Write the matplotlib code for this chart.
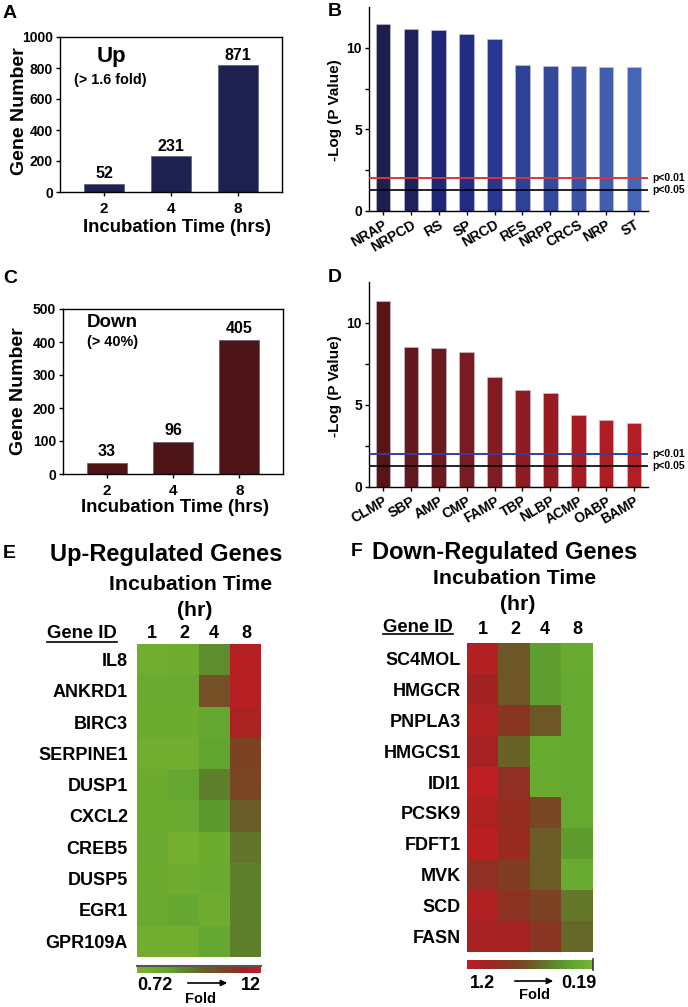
import numpy as np
import matplotlib
matplotlib.use('Agg')
import matplotlib.pyplot as plt
from matplotlib.colors import LinearSegmentedColormap, LogNorm
from matplotlib.lines import Line2D
from matplotlib.patches import FancyArrowPatch

plt.rcParams['font.family'] = ['Liberation Sans', 'DejaVu Sans']
plt.rcParams['font.weight'] = 'bold'
plt.rcParams['axes.labelweight'] = 'bold'

# ---------------- data ----------------
times = ['2', '4', '8']
up_counts = [52, 231, 817]
up_labels = ['52', '231', '871']
down_counts = [33, 96, 405]
down_labels = ['33', '96', '405']

b_terms = ['NRAP', 'NRPCD', 'RS', 'SP', 'NRCD', 'RES', 'NRPP', 'CRCS', 'NRP', 'ST']
b_values = [11.45, 11.18, 11.12, 10.86, 10.53, 8.94, 8.86, 8.86, 8.82, 8.80]
b_colors = ['#1E1F4C', '#1F215C', '#1F2676', '#222D82', '#27368E', '#2D4196',
            '#33499C', '#3A53A6', '#405DAE', '#4565B6']

d_terms = ['CLMP', 'SBP', 'AMP', 'CMP', 'FAMP', 'TBP', 'NLBP', 'ACMP', 'OABP', 'BAMP']
d_values = [11.37, 8.53, 8.47, 8.25, 6.70, 5.94, 5.72, 4.37, 4.08, 3.88]
d_colors = ['#581519', '#62181D', '#6B1A1F', '#781B22', '#831B22', '#8E1C22',
            '#961C22', '#A61C22', '#B01C24', '#B51D25']

p01 = 2.0
p05 = 1.3

hours = ['1', '2', '4', '8']
up_genes = ['IL8', 'ANKRD1', 'BIRC3', 'SERPINE1', 'DUSP1', 'CXCL2', 'CREB5',
            'DUSP5', 'EGR1', 'GPR109A']
up_fold = [
    [0.90, 0.95, 1.93, 10.4],
    [1.10, 1.10, 4.12, 10.4],
    [1.01, 1.01, 1.26, 9.05],
    [0.90, 0.90, 1.45, 5.16],
    [1.01, 1.26, 2.22, 4.88],
    [1.01, 1.10, 1.67, 3.38],
    [1.10, 0.83, 1.01, 2.55],
    [1.04, 0.95, 1.10, 2.22],
    [1.10, 1.26, 0.95, 2.22],
    [0.90, 0.90, 1.26, 2.22],
]
down_genes = ['SC4MOL', 'HMGCR', 'PNPLA3', 'HMGCS1', 'IDI1', 'PCSK9', 'FDFT1',
              'MVK', 'SCD', 'FASN']
down_fold = [
    [1.10, 0.48, 0.27, 0.23],
    [0.91, 0.48, 0.27, 0.24],
    [1.04, 0.69, 0.48, 0.24],
    [0.96, 0.44, 0.23, 0.24],
    [1.20, 0.76, 0.23, 0.24],
    [1.04, 0.80, 0.55, 0.24],
    [1.16, 0.83, 0.46, 0.28],
    [0.76, 0.63, 0.46, 0.23],
    [1.04, 0.73, 0.58, 0.38],
    [0.96, 0.96, 0.69, 0.42],
]
up_range = (0.72, 12)
down_range = (0.19, 1.2)

# ---------------- layout helpers ----------------
W, H = 688, 1007
fig = plt.figure(figsize=(W / 100, H / 100), dpi=100)


def add_ax(l, t, r, b, **kw):
    return fig.add_axes([l / W, 1 - b / H, (r - l) / W, (b - t) / H], **kw)


def ftext(x, y, s, **kw):
    kw.setdefault('fontweight', 'bold')
    return fig.text(x / W, 1 - y / H, s, **kw)


def fline(x0, x1, y0, y1, **kw):
    fig.add_artist(Line2D([x0 / W, x1 / W], [1 - y0 / H, 1 - y1 / H],
                          transform=fig.transFigure, **kw))


def farrow(x0, x1, y):
    fig.add_artist(FancyArrowPatch((x0 / W, 1 - y / H), (x1 / W, 1 - y / H),
                                   transform=fig.transFigure, arrowstyle='-|>',
                                   mutation_scale=9, color='black', lw=1.2))


# ---------------- count panels (A, C) ----------------
def count_panel(box, counts, labels, color, ymax, step, lab_off):
    ax = add_ax(*box)
    x = np.arange(len(times))
    ax.bar(x, counts, width=0.6, color=color, edgecolor='#5a5a7a', lw=0.5)
    ax.set_xlim(-0.66, 2.66)
    ax.set_ylim(0, ymax)
    ax.set_yticks(range(0, ymax + 1, step))
    ax.set_xticks(x)
    ax.set_xticklabels(times)
    ax.tick_params(axis='y', direction='out', length=3, width=1, labelsize=10, pad=2)
    ax.tick_params(axis='x', direction='out', length=3, width=1, labelsize=11, pad=4)
    for lab in ax.get_xticklabels() + ax.get_yticklabels():
        lab.set_fontweight('bold')
    for s in ax.spines.values():
        s.set_linewidth(1)
    for xi, c, lab in zip(x, counts, labels):
        ax.annotate(lab, (xi, c), xytext=(0, lab_off), textcoords='offset points',
                    ha='center', va='center', fontsize=11.5, fontweight='bold')
    return ax


count_panel((60, 37, 282, 192), up_counts, up_labels, '#1F2150', 1000, 200, 7.2)
count_panel((63, 309, 283, 474), down_counts, down_labels, '#4E1518', 500, 100, 8.3)

ftext(3, 14, 'A', fontsize=14, ha='left', va='center')
ftext(3, 278, 'C', fontsize=14, ha='left', va='center')
ftext(20, 111, 'Gene Number', fontsize=14, rotation=90, ha='center', va='center')
ftext(19, 391, 'Gene Number', fontsize=14, rotation=90, ha='center', va='center')
ftext(177, 228, 'Incubation Time (hrs)', fontsize=13.4, ha='center', va='center')
ftext(175, 508, 'Incubation Time (hrs)', fontsize=13.4, ha='center', va='center')
ftext(97, 56.5, 'Up', fontsize=16, ha='left', va='center')
ftext(74, 80, '(> 1.6 fold)', fontsize=10.4, ha='left', va='center')
ftext(87, 322.5, 'Down', fontsize=13.5, ha='left', va='center')
ftext(87, 342.5, '(> 40%)', fontsize=10.4, ha='left', va='center')


# ---------------- enrichment panels (B, D) ----------------
def enrich_panel(box, terms, values, colors, line_col):
    ax = add_ax(*box)
    ax.set_facecolor('none')
    x = np.arange(len(terms))
    ax.bar(x, values, width=0.52, color=colors, edgecolor='#c8c8d8', lw=0.4, zorder=2)
    ax.set_xlim(-0.5, 9.5)
    ax.set_ylim(0, 12.5)
    ax.set_yticks([0, 2.5, 5, 7.5, 10])
    ax.set_yticklabels(['0', '', '5', '', '10'])
    ax.set_xticks(x)
    ax.set_xticklabels(terms, rotation=30, ha='right', va='top', rotation_mode='anchor')
    ax.tick_params(axis='y', direction='out', length=3, width=1, labelsize=10, pad=2)
    ax.tick_params(axis='x', direction='out', length=3, width=1, labelsize=10, pad=2)
    for lab in ax.get_xticklabels() + ax.get_yticklabels():
        lab.set_fontweight('bold')
    for s in ['top', 'right']:
        ax.spines[s].set_visible(False)
    for s in ['left', 'bottom']:
        ax.spines[s].set_linewidth(1)
    ax.axhline(p01, color=line_col, lw=1.4, zorder=3)
    ax.axhline(p05, color='black', lw=1.2, zorder=3)
    ax.text(1.015, p01, 'p<0.01', transform=ax.get_yaxis_transform(), fontsize=7.5,
            fontweight='bold', ha='left', va='center')
    ax.text(1.015, p05, 'p<0.05', transform=ax.get_yaxis_transform(), fontsize=7.5,
            fontweight='bold', ha='left', va='center')
    return ax


enrich_panel((369, 7, 648, 211), b_terms, b_values, b_colors, '#D93636')
enrich_panel((369, 282, 648, 487), d_terms, d_values, d_colors, '#3A3D9A')
ftext(335, 12, 'B', fontsize=14, ha='center', va='center')
ftext(335, 277, 'D', fontsize=14, ha='center', va='center')
ftext(335, 110, '-Log (P Value)', fontsize=11, rotation=90, ha='center', va='center')
ftext(335, 386, '-Log (P Value)', fontsize=11, rotation=90, ha='center', va='center')

# ---------------- heatmaps (E, F) ----------------
cmap_up = LinearSegmentedColormap.from_list('up', [
    (0.0, '#7BB22F'), (0.25, '#5FA531'), (0.4, '#5E802D'), (0.55, '#6B5C28'),
    (0.7, '#7D4323'), (0.85, '#A02522'), (1.0, '#C21E26')])
cmap_down = LinearSegmentedColormap.from_list('down', [
    (0.0, '#7AB530'), (0.15, '#62A730'), (0.3, '#5E8A2D'), (0.45, '#686428'),
    (0.55, '#754B25'), (0.7, '#883624'), (0.85, '#A02422'), (1.0, '#BE1E24')])


def heat(box, data, genes, cmap, rng, pad):
    ax = add_ax(*box)
    ax.imshow(np.array(data), cmap=cmap, norm=LogNorm(*rng), aspect='auto',
              interpolation='nearest')
    ax.set_yticks(range(len(genes)))
    ax.set_yticklabels(genes, fontsize=13, fontweight='bold')
    ax.set_xticks([])
    ax.tick_params(axis='y', length=0, pad=pad)
    for s in ax.spines.values():
        s.set_visible(False)
    return ax


heat((136.7, 644, 260.7, 956.7), up_fold, up_genes, cmap_up, up_range, 6.3)
heat((467.3, 643.3, 592.7, 951.7), down_fold, down_genes, cmap_down, down_range, 4.7)

ftext(3, 553, 'E', fontsize=14, ha='left', va='center')
ftext(166, 554, 'Up-Regulated Genes', fontsize=17, ha='center', va='center')
ftext(191, 585, 'Incubation Time', fontsize=15.3, ha='center', va='center')
ftext(195, 610, '(hr)', fontsize=15.3, ha='center', va='center')
ftext(47, 634, 'Gene ID', fontsize=13.3, ha='left', va='center')
fline(47, 117, 642, 642, color='black', lw=1.2)
for xc, h in zip([152, 184, 214, 246], hours):
    ftext(xc, 633, h, fontsize=13, ha='center', va='center')

ftext(357, 552, 'F', fontsize=14, ha='center', va='center')
ftext(505, 552, 'Down-Regulated Genes', fontsize=17, ha='center', va='center')
ftext(515, 578, 'Incubation Time', fontsize=15.3, ha='center', va='center')
ftext(518, 604, '(hr)', fontsize=15.3, ha='center', va='center')
ftext(453, 627, 'Gene ID', fontsize=13.3, ha='right', va='center')
fline(383, 453, 634, 634, color='black', lw=1.2)
for xc, h in zip([483, 515, 545, 577], hours):
    ftext(xc, 630, h, fontsize=13, ha='center', va='center')

# ---------------- colour bars ----------------
grad = np.linspace(0, 1, 256)[None, :]
cax = add_ax(137, 965, 261, 973)
cax.imshow(grad, cmap=cmap_up, aspect='auto', extent=[0, 1, 0, 1])
cax.set_axis_off()
fline(137, 261, 965.5, 965.5, color='#555555', lw=1.5)
ftext(137, 986, '0.72', fontsize=13, ha='left', va='center')
ftext(261, 986, '12', fontsize=13, ha='right', va='center')
farrow(185, 230, 983)
ftext(201, 999, 'Fold', fontsize=10.5, ha='center', va='center')

cax2 = add_ax(467, 960, 593, 969)
cax2.imshow(grad[:, ::-1], cmap=cmap_down, aspect='auto', extent=[0, 1, 0, 1])
cax2.set_axis_off()
fline(592.5, 592.5, 959, 970, color='#333333', lw=1.2)
ftext(470, 983, '1.2', fontsize=13, ha='left', va='center')
ftext(596, 983, '0.19', fontsize=13, ha='right', va='center')
farrow(512, 556, 981)
ftext(534, 995, 'Fold', fontsize=10.5, ha='center', va='center')

fig.savefig('out.png', dpi=100, facecolor='white')
